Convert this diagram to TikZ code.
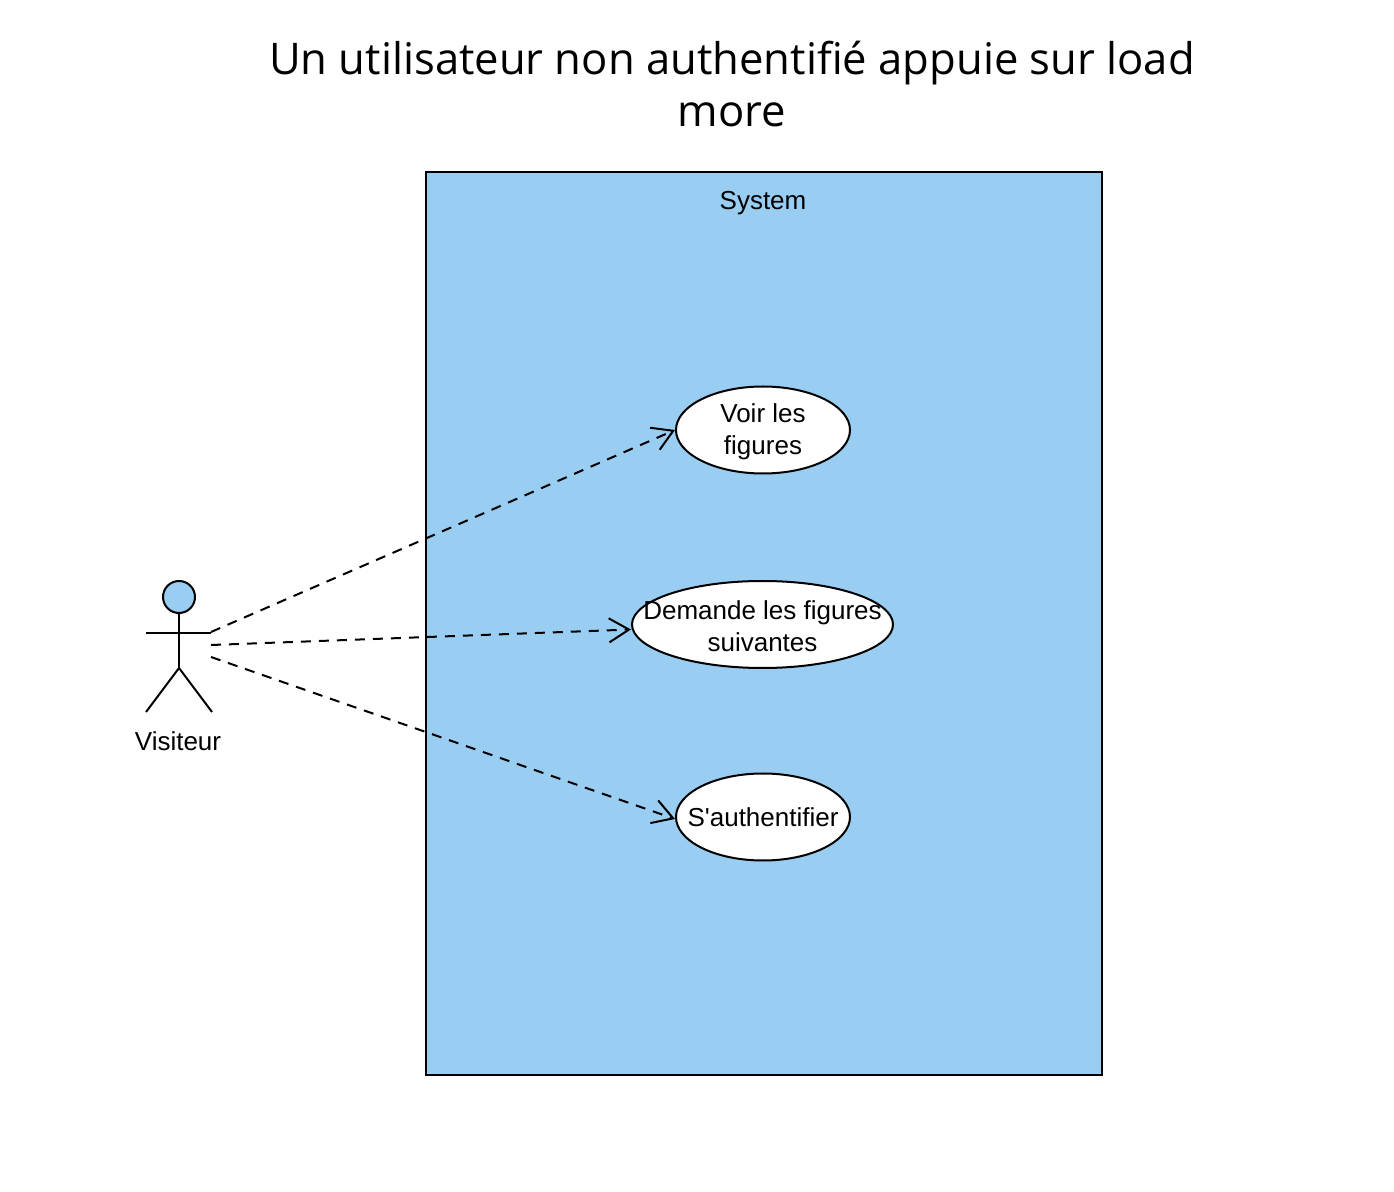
\documentclass[tikz,border=0pt]{standalone}
\usepackage{fontspec}
\setmainfont{Liberation Sans}
\newfontfamily\titlefont{Open Sans}
\usetikzlibrary{positioning, arrows.meta, shapes.geometric}
\definecolor{sysblue}{RGB}{153,205,242}

\begin{document}
\begin{tikzpicture}[
  x=0.5pt, y=-0.5pt,
  font=\fontsize{13}{16}\selectfont,
  usecase/.style={draw, ellipse, line width=1pt, fill=white, inner sep=0pt,
                  minimum height=43.5pt},
  uctext/.style={align=center, inner sep=0pt},
  assoc/.style={-{Straight Barb[length=10pt, width=12pt]}, line width=1pt,
                dash pattern=on 5pt off 4pt},
  limb/.style={line width=1pt},
]
\useasboundingbox (0,0) rectangle (1394,1192);
% title
\node[font=\titlefont\fontsize{21.8}{26}\selectfont, align=center] (title) at (732,84)
  {Un utilisateur non authentifié appuie sur load\\ more};
% system boundary
\node[draw, line width=1pt, fill=sysblue, minimum width=338pt, minimum height=451.5pt,
      inner sep=0pt] (sys) at (764,623.5) {};
\node (systxt) at (763,203) {System};
% use cases
\node[usecase, minimum width=87pt] (voir) at (763,430) {};
\node[uctext] (voirtxt) at ([yshift=-1pt]voir.center) {Voir les\\ figures};
\node[usecase, minimum width=130.5pt] (demande) at (762.5,624.5) {};
\node[uctext] (demandetxt) at ([yshift=-1pt]demande.center) {Demande les figures\\ suivantes};
\node[usecase, minimum width=87pt] (auth) at (763,817) {};
\node[uctext] (authtxt) at (auth.center) {S\textquotesingle authentifier};
% actor
\node[draw, circle, line width=1pt, fill=sysblue, minimum size=16pt, inner sep=0pt]
  (head) at (179,597) {};
\coordinate (hip) at (179,668);
\coordinate (handl) at (146,633);
\coordinate (handr) at (211,633);
\coordinate (footl) at (146,712);
\coordinate (footr) at (212,712);
\draw[limb] (head.south) -- (hip);
\draw[limb] (handl) -- (handr);
\draw[limb] (footl) -- (hip) -- (footr);
\node (visiteur) at (178,741) {Visiteur};
% associations
\coordinate (a1) at (211,632);
\coordinate (a2) at (211,645);
\coordinate (a3) at (211,657);
\draw[assoc] (a1) -- (voir.west);
\draw[assoc] (a2) -- ([yshift=-2.5pt]demande.west);
\draw[assoc] (a3) -- ([yshift=-1pt]auth.west);
\end{tikzpicture}
\end{document}
